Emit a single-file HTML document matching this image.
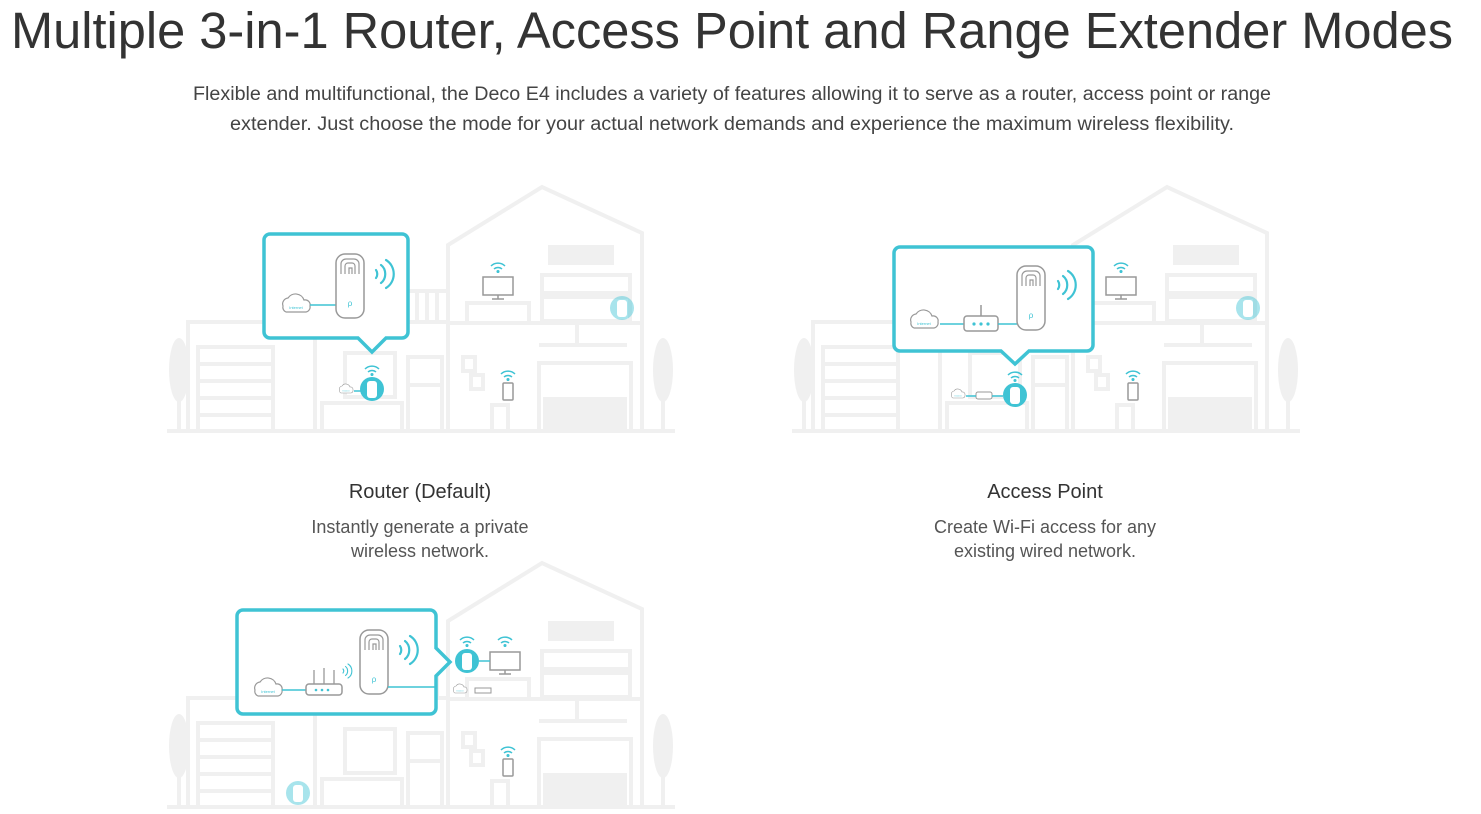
<!DOCTYPE html>
<html><head><meta charset="utf-8"><style>
html,body{margin:0;padding:0;background:#fff;}
svg{display:block;}
text{font-family:"Liberation Sans",Arial,sans-serif;}
</style></head><body>
<svg width="1481" height="814" viewBox="0 0 1481 814" xmlns="http://www.w3.org/2000/svg">
<defs>
<g id="house" fill="none" stroke="#f0f0f0" stroke-width="4">
  <line x1="0" y1="246" x2="508" y2="246"/>
  <polyline points="21,246 21,137 281,137"/>
  <line x1="148" y1="137" x2="148" y2="246"/>
  <rect x="31" y="162" width="75" height="84"/>
  <line x1="31" y1="179" x2="106" y2="179"/><line x1="31" y1="196" x2="106" y2="196"/><line x1="31" y1="213" x2="106" y2="213"/><line x1="31" y1="230" x2="106" y2="230"/>
  <line x1="240" y1="106" x2="281" y2="106"/>
  <line x1="250" y1="106" x2="250" y2="137"/><line x1="260" y1="106" x2="260" y2="137"/><line x1="270" y1="106" x2="270" y2="137"/>
  <polyline points="281,246 281,60 375,2 475,48 475,246"/>
  <line x1="281" y1="138" x2="475" y2="138"/>
  <rect x="381" y="60" width="66" height="20" fill="#f0f0f0" stroke="none"/>
  <rect x="375" y="90" width="88" height="18"/>
  <rect x="375" y="112" width="88" height="24"/>
  <rect x="300" y="118" width="62" height="20"/>
  <line x1="410" y1="138" x2="410" y2="160"/>
  <line x1="372" y1="160" x2="460" y2="160"/>
  <rect x="372" y="178" width="92" height="68"/>
  <rect x="378" y="214" width="80" height="32" fill="#f0f0f0"/>
  <rect x="296" y="172" width="12" height="14"/><rect x="304" y="190" width="12" height="14"/>
  <rect x="325" y="220" width="16" height="26"/>
  <rect x="241" y="172" width="34" height="74"/><line x1="241" y1="200" x2="275" y2="200"/>
  <rect x="178" y="168" width="50" height="44"/>
  <rect x="155" y="218" width="80" height="28"/>
  <ellipse cx="12" cy="185" rx="10" ry="32" fill="#f0f0f0" stroke="none"/>
  <ellipse cx="496" cy="185" rx="10" ry="32" fill="#f0f0f0" stroke="none"/>
  <line x1="12" y1="200" x2="12" y2="246"/><line x1="496" y1="200" x2="496" y2="246"/>
</g>
<g id="deco">
  <rect x="0" y="0" width="28" height="64" rx="9" fill="#fff" stroke="#999" stroke-width="1.5"/>
  <path d="M5,20 V10 a5,5 0 0 1 5,-5 h8 a5,5 0 0 1 5,5 v10 M9,20 V12 a3,3 0 0 1 3,-3 h4 a3,3 0 0 1 3,3 v8 M13,20 v-6 h3 v6" fill="none" stroke="#999" stroke-width="1.2"/>
  <text x="14" y="52" font-size="8" fill="#3fc3d4" text-anchor="middle">ρ</text>
</g>
<g id="waves" fill="none" stroke="#3fc3d4" stroke-width="2.2" stroke-linecap="round">
  <path d="M0,-4 a5,6 0 0 1 0,8"/><path d="M5,-9 a10,11 0 0 1 0,18"/><path d="M10,-14 a15,16 0 0 1 0,28"/>
</g>
<g id="cloud">
  <path d="M3,12 a6,6 0 0 1 5,-8 a9,9 0 0 1 16,2 a5,5 0 0 1 6,6 a5,5 0 0 1 -4,6 h-20 a5,5 0 0 1 -3,-6z" fill="#fff" stroke="#999" stroke-width="1.2"/>
  <text x="16" y="15" font-size="4" fill="#3fc3d4" text-anchor="middle">Internet</text>
</g>
<g id="wifi" fill="none" stroke="#3fc3d4" stroke-width="1.5">
  <path d="M-7,-2 a10,10 0 0 1 14,0"/><path d="M-4,1 a6,6 0 0 1 8,0"/><circle cx="0" cy="3.5" r="0.8" fill="#3fc3d4"/>
</g>
<g id="tv" fill="none" stroke="#999" stroke-width="1.5">
  <rect x="-15" y="0" width="30" height="18"/><line x1="0" y1="18" x2="0" y2="22"/><line x1="-6" y1="22" x2="6" y2="22"/>
</g>
<g id="phone" fill="none" stroke="#999" stroke-width="1.5"><rect x="-5" y="0" width="10" height="17" rx="1"/></g>
<g id="dot"><circle r="12" fill="#3fc3d4"/><rect x="-5" y="-8" width="10" height="17" rx="3" fill="#fff"/></g>
<g id="dotlight"><circle r="12" fill="#3fc3d4" opacity="0.45"/><rect x="-5" y="-8" width="10" height="17" rx="3" fill="#fff"/></g>
</defs>

<text x="732" y="48" font-size="51" fill="#333" text-anchor="middle" textLength="1442" lengthAdjust="spacingAndGlyphs">Multiple 3-in-1 Router, Access Point and Range Extender Modes</text>
<text x="732" y="100" font-size="19" fill="#444" text-anchor="middle" textLength="1078" lengthAdjust="spacingAndGlyphs">Flexible and multifunctional, the Deco E4 includes a variety of features allowing it to serve as a router, access point or range</text>
<text x="732" y="130" font-size="19" fill="#444" text-anchor="middle" textLength="1004" lengthAdjust="spacingAndGlyphs">extender. Just choose the mode for your actual network demands and experience the maximum wireless flexibility.</text>

<!-- House 1: Router -->
<use href="#house" x="167" y="185"/>
<use href="#tv" x="498" y="277"/><use href="#wifi" x="498" y="268"/>
<use href="#phone" x="508" y="383"/><use href="#wifi" x="508" y="376"/>
<use href="#dotlight" x="622" y="308"/>
<use href="#dot" x="372" y="389"/><use href="#wifi" x="372" y="371"/>
<g transform="translate(338,384) scale(0.5)"><use href="#cloud"/></g>
<line x1="354" y1="391" x2="362" y2="391" stroke="#3fc3d4" stroke-width="1.5"/>
<path d="M270,234 H402 a6,6 0 0 1 6,6 V332 a6,6 0 0 1 -6,6 H386 L372,352 L358,338 H270 a6,6 0 0 1 -6,-6 V240 a6,6 0 0 1 6,-6Z" fill="#fff" stroke="#3fc3d4" stroke-width="3.5"/>
<g transform="translate(280,294)"><use href="#cloud"/></g>
<line x1="310" y1="305" x2="336" y2="305" stroke="#3fc3d4" stroke-width="1.5"/>
<use href="#deco" x="336" y="254"/>
<use href="#waves" x="376" y="274"/>
<text x="420" y="498" font-size="20" fill="#333" text-anchor="middle">Router (Default)</text>
<text x="420" y="533" font-size="18" fill="#555" text-anchor="middle">Instantly generate a private</text>
<text x="420" y="557" font-size="18" fill="#555" text-anchor="middle">wireless network.</text>

<!-- House 2: Access Point -->
<use href="#house" x="792" y="185"/>
<use href="#tv" x="1121" y="277"/><use href="#wifi" x="1121" y="268"/>
<use href="#phone" x="1133" y="383"/><use href="#wifi" x="1133" y="376"/>
<use href="#dotlight" x="1248" y="308"/>
<use href="#dot" x="1015" y="395"/><use href="#wifi" x="1015" y="377"/>
<g transform="translate(950,389) scale(0.5)"><use href="#cloud"/></g>
<rect x="976" y="392" width="16" height="7" rx="2" fill="#fff" stroke="#999"/>
<line x1="966" y1="396" x2="976" y2="396" stroke="#3fc3d4" stroke-width="1.5"/>
<line x1="992" y1="396" x2="1003" y2="396" stroke="#3fc3d4" stroke-width="1.5"/>
<path d="M900,247 H1087 a6,6 0 0 1 6,6 V345 a6,6 0 0 1 -6,6 H1029 L1015,364 L1001,351 H900 a6,6 0 0 1 -6,-6 V253 a6,6 0 0 1 6,-6Z" fill="#fff" stroke="#3fc3d4" stroke-width="3.5"/>
<g transform="translate(908,310)"><use href="#cloud"/></g>
<line x1="940" y1="324" x2="964" y2="324" stroke="#3fc3d4" stroke-width="1.5"/>
<rect x="964" y="316" width="34" height="15" rx="3" fill="#fff" stroke="#999" stroke-width="1.5"/>
<line x1="981" y1="305" x2="981" y2="316" stroke="#999" stroke-width="1.5"/>
<circle cx="974" cy="324" r="1.6" fill="#3fc3d4"/><circle cx="981" cy="324" r="1.6" fill="#3fc3d4"/><circle cx="988" cy="324" r="1.6" fill="#3fc3d4"/>
<line x1="998" y1="324" x2="1017" y2="324" stroke="#3fc3d4" stroke-width="1.5"/>
<use href="#deco" x="1017" y="266"/>
<use href="#waves" x="1058" y="285"/>
<text x="1045" y="498" font-size="20" fill="#333" text-anchor="middle">Access Point</text>
<text x="1045" y="533" font-size="18" fill="#555" text-anchor="middle">Create Wi-Fi access for any</text>
<text x="1045" y="557" font-size="18" fill="#555" text-anchor="middle">existing wired network.</text>

<!-- House 3: Range Extender -->
<use href="#house" x="167" y="561"/>
<use href="#tv" x="505" y="652"/><use href="#wifi" x="505" y="642"/>
<use href="#phone" x="508" y="759"/><use href="#wifi" x="508" y="752"/>
<use href="#dotlight" x="298" y="793"/>
<use href="#dot" x="467" y="661"/><use href="#wifi" x="467" y="642"/>
<line x1="479" y1="661" x2="490" y2="661" stroke="#3fc3d4" stroke-width="1.5"/>
<g transform="translate(452,684) scale(0.5)"><use href="#cloud"/></g>
<rect x="475" y="688" width="16" height="5" fill="#fff" stroke="#999"/>
<path d="M243,610 H430 a6,6 0 0 1 6,6 V648 L450,662 L436,676 V708 a6,6 0 0 1 -6,6 H243 a6,6 0 0 1 -6,-6 V616 a6,6 0 0 1 6,-6Z" fill="#fff" stroke="#3fc3d4" stroke-width="3.5"/>
<g transform="translate(252,678)"><use href="#cloud"/></g>
<line x1="282" y1="690" x2="306" y2="690" stroke="#3fc3d4" stroke-width="1.5"/>
<rect x="306" y="684" width="36" height="11" rx="3" fill="#fff" stroke="#999" stroke-width="1.5"/>
<line x1="314" y1="670" x2="314" y2="684" stroke="#999" stroke-width="1.3"/><line x1="324" y1="668" x2="324" y2="684" stroke="#999" stroke-width="1.3"/><line x1="334" y1="670" x2="334" y2="684" stroke="#999" stroke-width="1.3"/>
<circle cx="316" cy="690" r="1.3" fill="#3fc3d4"/><circle cx="322" cy="690" r="1.3" fill="#3fc3d4"/><circle cx="328" cy="690" r="1.3" fill="#3fc3d4"/>
<use href="#waves" transform="translate(343,671) scale(0.5)"/>
<use href="#deco" x="360" y="630"/>
<line x1="388" y1="687" x2="436" y2="687" stroke="#3fc3d4" stroke-width="1.5"/>
<use href="#waves" x="400" y="650"/>
</svg>
</body></html>
